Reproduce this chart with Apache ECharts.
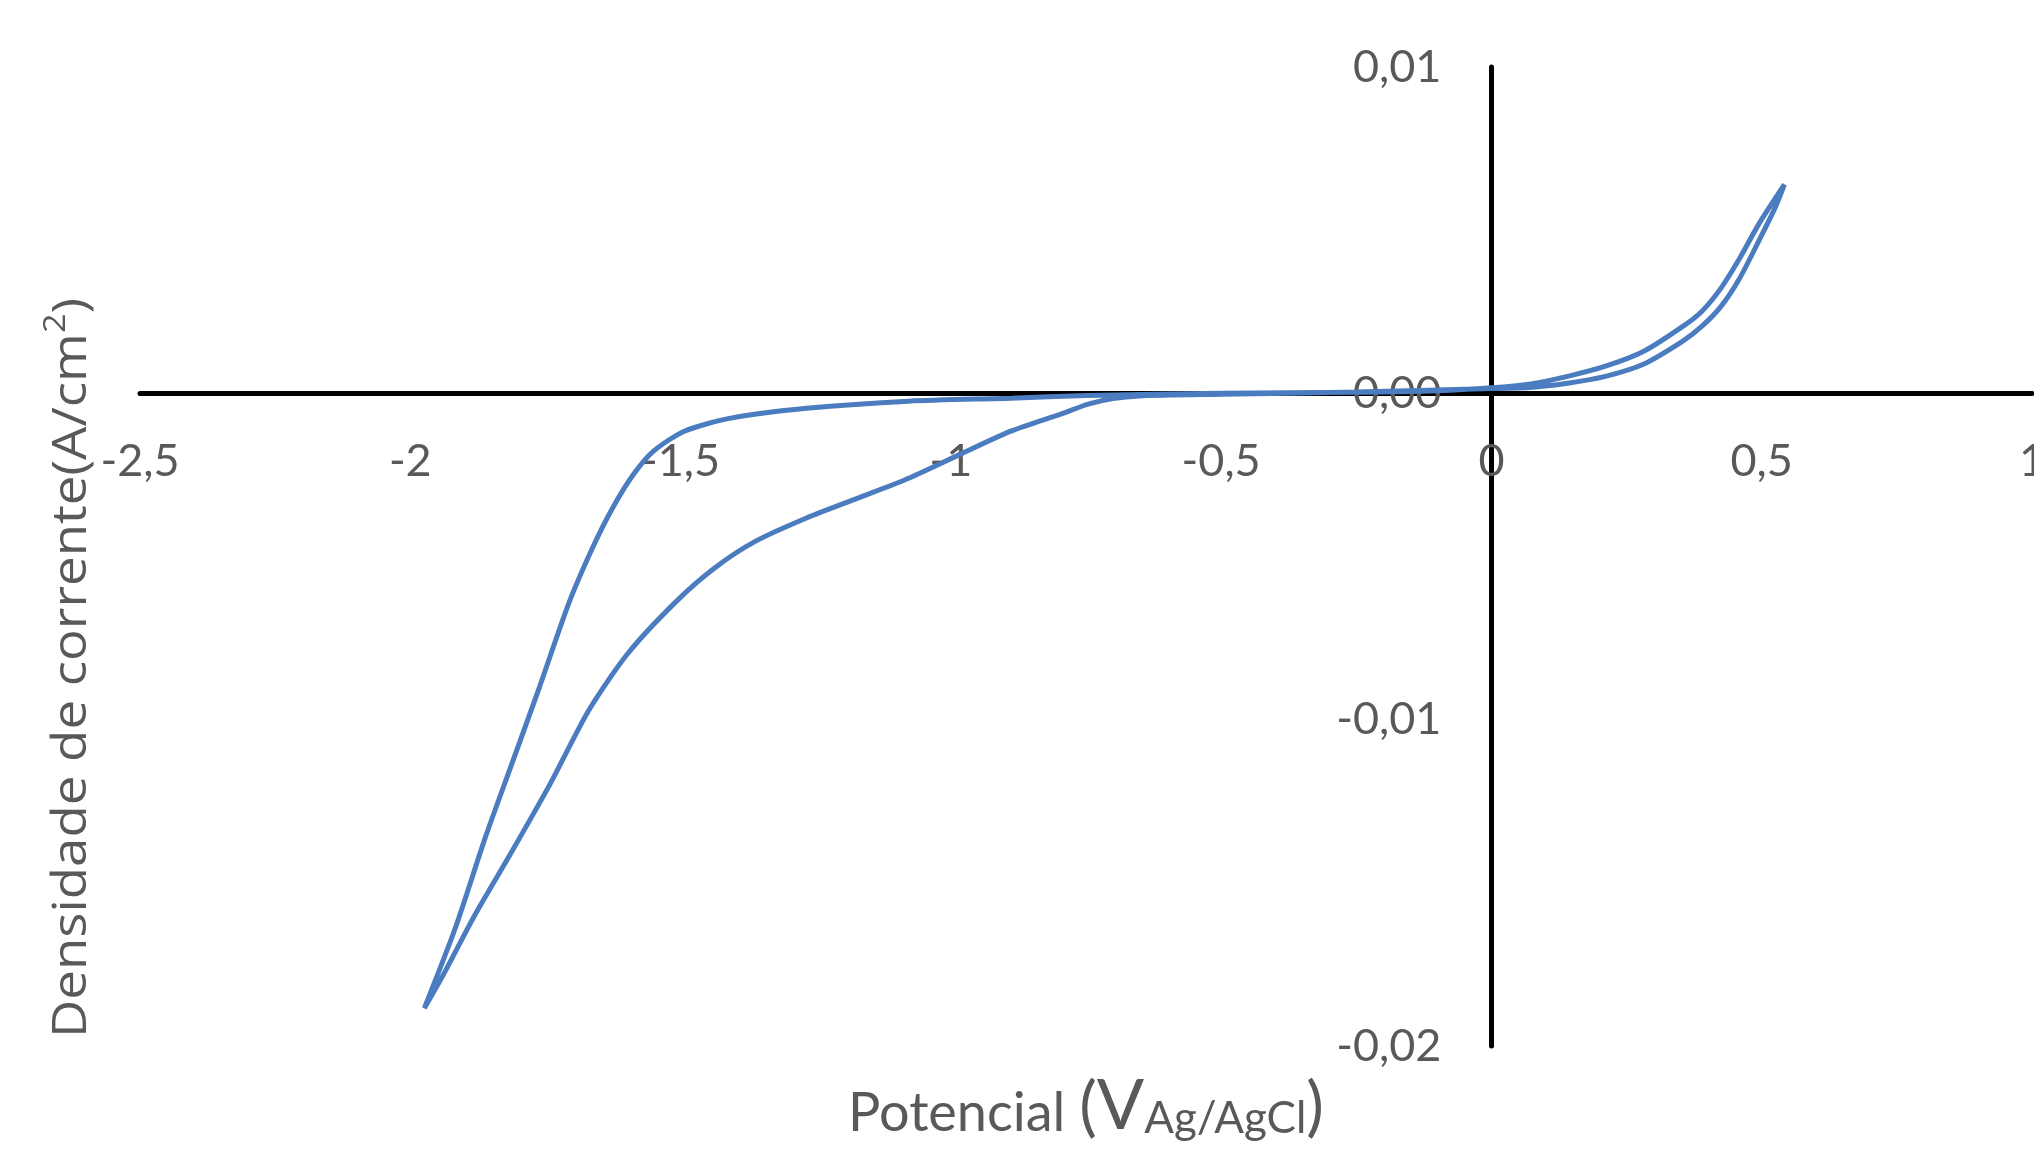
<!DOCTYPE html>
<html>
<head>
<meta charset="utf-8">
<script src="https://cdn.jsdelivr.net/npm/echarts@6.0.0/dist/echarts.min.js"></script>
<style>
  html, body { margin: 0; padding: 0; background: #ffffff; }
  #chart { width: 2034px; height: 1155px; }
</style>
</head>
<body>
<div id="chart"></div>
<script>
// Potential (V vs Ag/AgCl), in scan order
const potential = [
  0.000, 0.070, 0.141, 0.211, 0.281, 0.354, 0.389, 0.424, 0.459, 0.494, 0.524, 0.542,
  0.494, 0.459, 0.424, 0.389, 0.354, 0.281, 0.211, 0.141, 0.070, 0.000,
  -0.100, -0.250, -0.500, -0.750, -0.889, -1.078, -1.267, -1.407, -1.493, -1.550,
  -1.587, -1.626, -1.663, -1.706, -1.761, -1.811, -1.861, -1.917, -1.974,
  -1.940, -1.881, -1.811, -1.741, -1.670, -1.598, -1.507, -1.437, -1.361, -1.267,
  -1.172, -1.078, -0.983, -0.889, -0.794, -0.746, -0.700, -0.652, -0.500, -0.250, 0.000
];
// Current density (A/cm2), same order
const currentDensity = [
  0.00015, 0.00018, 0.00031, 0.00052, 0.00089, 0.00160, 0.00205, 0.00265, 0.00352, 0.00465, 0.00566, 0.00640,
  0.00517, 0.00413, 0.00321, 0.00251, 0.00205, 0.00128, 0.00083, 0.00052, 0.00028, 0.00017,
  0.00008, 0.00003, 0.00000, -0.00007, -0.00015, -0.00024, -0.00046, -0.00076, -0.00116, -0.00177,
  -0.00248, -0.00352, -0.00474, -0.00640, -0.00900, -0.01130, -0.01360, -0.01640, -0.01884,
  -0.01785, -0.01600, -0.01401, -0.01196, -0.00972, -0.00798, -0.00636, -0.00535, -0.00453, -0.00382,
  -0.00321, -0.00260, -0.00187, -0.00116, -0.00062, -0.00033, -0.00016, -0.00008, -0.00003, 0.00004, 0.00015
];
const xTickValues = [-2.5, -2, -1.5, -1, -0.5, 0, 0.5, 1];
const xTickLabels = ['-2,5', '-2', '-1,5', '-1', '-0,5', '0', '0,5', '1'];
const yTickValues = [-0.02, -0.01, 0, 0.01];
const yTickLabels = ['-0,02', '-0,01', '0,00', '0,01'];

function tickLabel(values, labels) {
  return function (v) {
    let best = 0;
    for (let i = 1; i < values.length; i++) {
      if (Math.abs(values[i] - v) < Math.abs(values[best] - v)) best = i;
    }
    return labels[best];
  };
}

const chart = echarts.init(document.getElementById('chart'), null, { renderer: 'canvas' });
const labelColor = '#595959';

chart.setOption({
  animation: false,
  backgroundColor: '#ffffff',
  grid: { left: 140, right: 2, top: 67, bottom: 109, containLabel: false, outerBoundsMode: 'none' },
  xAxis: {
    type: 'value', min: -2.5, max: 1, interval: 0.5,
    axisLine: { show: true, onZero: false, lineStyle: { color: '#000000', width: 5 } },
    axisTick: { show: false },
    splitLine: { show: false },
    axisLabel: {
      margin: 46, fontFamily: 'Lato', fontSize: 45, color: labelColor,
      formatter: tickLabel(xTickValues, xTickLabels)
    }
  },
  yAxis: {
    type: 'value', min: -0.02, max: 0.01, interval: 0.01,
    axisLine: { show: true, onZero: false, lineStyle: { color: '#000000', width: 5 } },
    axisTick: { show: false },
    splitLine: { show: false },
    axisLabel: {
      margin: 50, fontFamily: 'Lato', fontSize: 45, color: labelColor,
      formatter: tickLabel(yTickValues, yTickLabels)
    }
  },
  series: [{
    type: 'line',
    data: potential.map((v, i) => [v, currentDensity[i]]),
    symbol: 'none',
    smooth: 0.25,
    lineStyle: { color: '#4a7cbf', width: 5 },
    z: 5
  }],
  graphic: [
    {
      type: 'text',
      x: 1086, y: 1101,
      style: {
        text: '{a|Potencial }{p|(}{v|V}{s|Ag/AgCl}{p|)}',
        align: 'center', verticalAlign: 'middle',
        rich: {
          a: { fontFamily: 'Lato', fontSize: 54, fill: labelColor, lineHeight: 70, verticalAlign: 'bottom' },
          p: { fontFamily: 'Lato', fontSize: 66, fill: labelColor, lineHeight: 78, verticalAlign: 'bottom' },
          v: { fontFamily: 'Lato', fontSize: 70, fill: labelColor, lineHeight: 80, verticalAlign: 'bottom' },
          s: { fontFamily: 'Lato', fontSize: 44, fill: labelColor, lineHeight: 47, verticalAlign: 'bottom' }
        }
      }
    },
    {
      type: 'text',
      x: 72, y: 668,
      rotation: Math.PI / 2,
      scaleX: 1.1,
      style: {
        text: '{m|Densidade de corrente(A/cm}{u|2}{m|)}',
        align: 'center', verticalAlign: 'middle',
        rich: {
          m: { fontFamily: 'Open Sans', fontSize: 48, fill: labelColor, lineHeight: 62, verticalAlign: 'middle' },
          u: { fontFamily: 'Open Sans', fontSize: 31, fill: labelColor, lineHeight: 31, verticalAlign: 'top' }
        }
      }
    }
  ]
});

// Move both axes (line and labels) so that they cross at zero
const zeroPx = chart.convertToPixel({ gridIndex: 0 }, [0, 0]);
const minPx = chart.convertToPixel({ gridIndex: 0 }, [-2.5, -0.02]);
chart.setOption({
  xAxis: { offset: -(minPx[1] - zeroPx[1]) },
  yAxis: { offset: -(zeroPx[0] - minPx[0]) }
});
</script>
</body>
</html>
